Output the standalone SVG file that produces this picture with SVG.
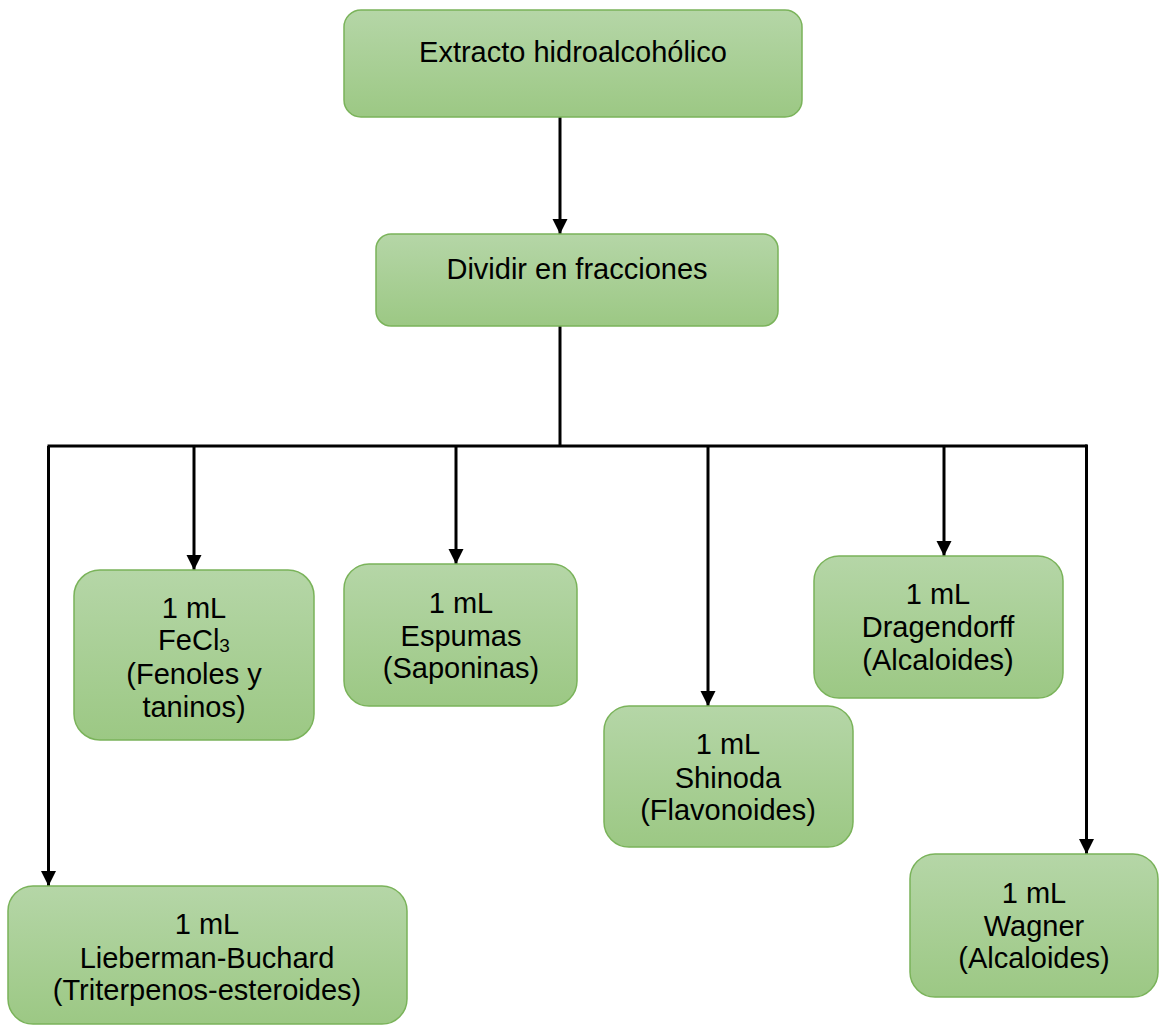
<svg xmlns="http://www.w3.org/2000/svg" width="1160" height="1026" viewBox="0 0 1160 1026">
<defs>
<linearGradient id="g" x1="0" y1="0" x2="0" y2="1">
<stop offset="0" stop-color="#b5d6a7"/>
<stop offset="1" stop-color="#9cc884"/>
</linearGradient>
<marker id="ah" markerUnits="userSpaceOnUse" markerWidth="16" markerHeight="16" refX="15" refY="8" orient="auto" viewBox="0 0 16 16">
<path d="M0,0.5 L15,8 L0,15.5 z" fill="#000"/>
</marker>
</defs>
<style>
.box{fill:url(#g);stroke:#7ab35a;stroke-width:1.5}
.t{font-family:"Liberation Sans",Arial,sans-serif;font-size:29px;fill:#000;text-anchor:middle}
.c{fill:none;stroke:#000;stroke-width:3}
.a{fill:none;stroke:#000;stroke-width:3;marker-end:url(#ah)}
</style>
<rect width="1160" height="1026" fill="#fff"/>
<g id="connectors">
<line class="a" x1="560" y1="117" x2="560" y2="234"/>
<polyline class="c" points="560,326 560,446"/>
<polyline class="c" points="47.5,446 1087,446"/>
<line class="a" x1="48.5" y1="446" x2="48.5" y2="886"/>
<line class="a" x1="194" y1="446" x2="194" y2="570"/>
<line class="a" x1="456" y1="446" x2="456" y2="564"/>
<line class="a" x1="708" y1="446" x2="708" y2="706"/>
<line class="a" x1="944" y1="446" x2="944" y2="556"/>
<line class="a" x1="1086.5" y1="444.5" x2="1086.5" y2="854"/>
</g>
<g id="n1">
<rect class="box" x="344" y="10" width="458" height="107" rx="17"/>
<text class="t" x="573" y="62">Extracto hidroalcohólico</text>
</g>
<g id="n2">
<rect class="box" x="376" y="234" width="402" height="92" rx="15"/>
<text class="t" x="577" y="279">Dividir en fracciones</text>
</g>
<g id="n3">
<rect class="box" x="74" y="570" width="240" height="170" rx="26"/>
<text class="t" x="194" y="618">1 mL</text>
<text class="t" x="194" y="650">FeCl<tspan font-size="19" dy="2">3</tspan></text>
<text class="t" x="194" y="684">(Fenoles y</text>
<text class="t" x="194" y="717">taninos)</text>
</g>
<g id="n4">
<rect class="box" x="344" y="564" width="233" height="142" rx="25"/>
<text class="t" x="461" y="613">1 mL</text>
<text class="t" x="461" y="646">Espumas</text>
<text class="t" x="461" y="678">(Saponinas)</text>
</g>
<g id="n5">
<rect class="box" x="604" y="706" width="249" height="141" rx="25"/>
<text class="t" x="728" y="754">1 mL</text>
<text class="t" x="728" y="788">Shinoda</text>
<text class="t" x="728" y="820">(Flavonoides)</text>
</g>
<g id="n6">
<rect class="box" x="814" y="556" width="249" height="142" rx="25"/>
<text class="t" x="938" y="604">1 mL</text>
<text class="t" x="938" y="637">Dragendorff</text>
<text class="t" x="938" y="670">(Alcaloides)</text>
</g>
<g id="n7">
<rect class="box" x="8" y="886" width="399" height="138" rx="25"/>
<text class="t" x="207" y="934">1 mL</text>
<text class="t" x="207" y="968">Lieberman-Buchard</text>
<text class="t" x="207" y="1000">(Triterpenos-esteroides)</text>
</g>
<g id="n8">
<rect class="box" x="910" y="854" width="248" height="143" rx="25"/>
<text class="t" x="1034" y="903">1 mL</text>
<text class="t" x="1034" y="936">Wagner</text>
<text class="t" x="1034" y="968">(Alcaloides)</text>
</g>
</svg>
